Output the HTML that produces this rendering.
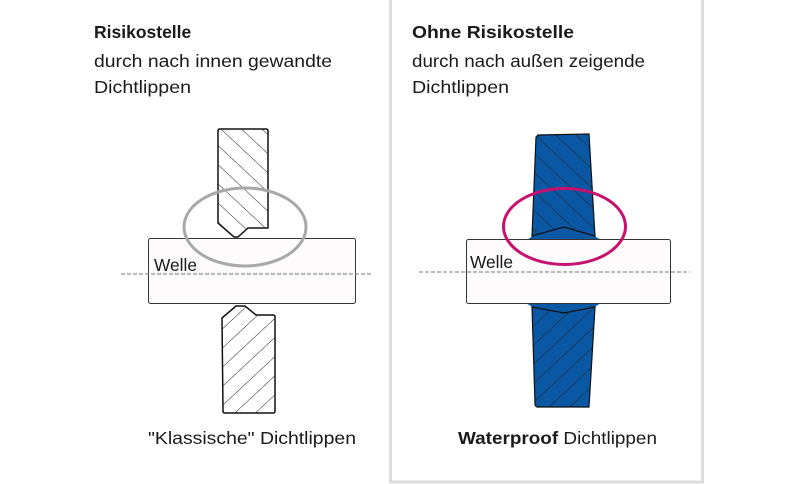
<!DOCTYPE html>
<html><head><meta charset="utf-8"><style>
html,body{margin:0;padding:0;background:#fff;}
svg{display:block;font-family:"Liberation Sans","DejaVu Sans",sans-serif;}
</style></head><body>
<svg width="800" height="484" viewBox="0 0 800 484" xmlns="http://www.w3.org/2000/svg">
<defs>
<pattern id="h1" patternUnits="userSpaceOnUse" width="14" height="14" patternTransform="rotate(47)">
<line x1="0" y1="0" x2="0" y2="14" stroke="#222" stroke-width="1"/></pattern>
<pattern id="h2" patternUnits="userSpaceOnUse" width="14" height="14" patternTransform="rotate(-47)">
<line x1="0" y1="0" x2="0" y2="14" stroke="#222" stroke-width="1"/></pattern>
</defs>
<rect x="0" y="0" width="800" height="484" fill="#fff"/>
<rect x="390.5" y="-2" width="312" height="484" fill="none" stroke="#dcdcdc" stroke-width="3"/>

<g font-size="17.5" fill="#1a1a1a">
<text x="94" y="38" font-weight="bold">Risikostelle</text>
<text x="94" y="67" textLength="238" lengthAdjust="spacingAndGlyphs">durch nach innen gewandte</text>
<text x="94" y="93" textLength="97" lengthAdjust="spacingAndGlyphs">Dichtlippen</text>
<text x="412" y="38" font-weight="bold" textLength="162" lengthAdjust="spacingAndGlyphs">Ohne Risikostelle</text>
<text x="412" y="67" textLength="233" lengthAdjust="spacingAndGlyphs">durch nach außen zeigende</text>
<text x="412" y="93" textLength="97" lengthAdjust="spacingAndGlyphs">Dichtlippen</text>
<text x="148" y="444" textLength="208" lengthAdjust="spacingAndGlyphs">"Klassische" Dichtlippen</text>
<text x="458" y="444" textLength="199" lengthAdjust="spacingAndGlyphs"><tspan font-weight="bold">Waterproof</tspan> Dichtlippen</text>
</g>

<!-- Left diagram -->
<path d="M218,131 Q218,129 220,129 L266,129 Q268,129 268,131 L268,228 L248,228 L238,237 L234,237 L218,223 Z" fill="#fff" stroke="#111" stroke-width="1.5"/>
<path d="M218,131 Q218,129 220,129 L266,129 Q268,129 268,131 L268,228 L248,228 L238,237 L234,237 L218,223 Z" fill="url(#h2)"/>
<path d="M222,318 L236,306 L245,306 L256,315 L273,315 Q275,315 275,317 L275,411 Q275,413 273,413 L225,413 Q223,413 223,411 Z" fill="#fff" stroke="#111" stroke-width="1.5"/>
<path d="M222,318 L236,306 L245,306 L256,315 L273,315 Q275,315 275,317 L275,411 Q275,413 273,413 L225,413 Q223,413 223,411 Z" fill="url(#h1)"/>
<rect x="148.5" y="238.5" width="207" height="65" rx="2" fill="#fdfbfc" stroke="#333" stroke-width="1"/>
<line x1="121" y1="274" x2="372" y2="274" stroke="#777" stroke-width="1" stroke-dasharray="4,2"/>
<text x="154" y="271" font-size="17.5" fill="#1a1a1a" textLength="43" lengthAdjust="spacingAndGlyphs">Welle</text>
<ellipse cx="245" cy="227" rx="61" ry="39" fill="none" stroke="#a8a8a8" stroke-width="3"/>

<!-- Right diagram -->
<path d="M538,135 L589,134 L595,236 Q598,239 603,240 L525,240 Q530,239 532,236 L536,137 Z" fill="#0a57a3"/>
<path d="M538,135 L589,134 L595,236 L564,227 L532,236 L536,137 Z" fill="url(#h2)" stroke="#111" stroke-width="1.2"/>
<path d="M524,303 L603,303 Q598,304 595,307 L589,407 L537,407 Q535,406 535,404 L532,307 Q529,304 524,303 Z" fill="#0a57a3"/>
<path d="M532,307 L564,313 L595,307 L589,407 L537,407 Q535,406 535,404 Z" fill="url(#h1)" stroke="#111" stroke-width="1.2"/>
<rect x="466.5" y="239.5" width="204" height="64" rx="2" fill="#fdfbfc" stroke="#333" stroke-width="1"/>
<line x1="419" y1="272" x2="690" y2="272" stroke="#777" stroke-width="1" stroke-dasharray="4,2"/>
<text x="470" y="268" font-size="17.5" fill="#1a1a1a" textLength="43" lengthAdjust="spacingAndGlyphs">Welle</text>
<ellipse cx="564.5" cy="226.5" rx="61" ry="38" fill="none" stroke="#c8106e" stroke-width="3"/>
</svg>
</body></html>
